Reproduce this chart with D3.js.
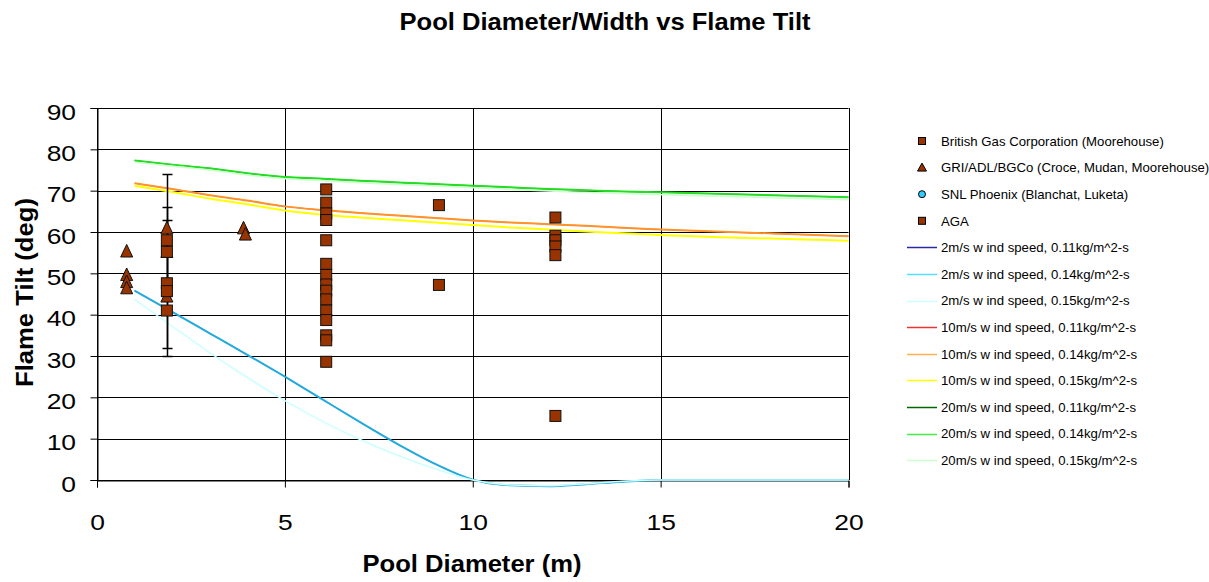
<!DOCTYPE html>
<html><head><meta charset="utf-8">
<script src="https://cdn.jsdelivr.net/npm/d3@7"></script>
<style>body{margin:0;background:#fff}svg{display:block;font-family:Arial,"Liberation Sans",sans-serif}</style>
</head><body><svg id="c" width="1209" height="582"></svg>
<script>
// ---- data ----
const xTicks = [0, 5, 10, 15, 20];
const yTicks = [0, 10, 20, 30, 40, 50, 60, 70, 80, 90];

const bgcX = [1.86, 1.86, 1.86, 1.86, 1.86];
const bgcY = [58, 55.2, 47.6, 45.7, 41];

const griX = [0.79, 0.79, 0.79, 0.79, 1.86, 1.86, 1.86, 3.9, 3.95];
const griY = [55.4, 49.7, 48, 46.5, 61, 55.3, 44.5, 61, 59.5];

const snlX = [];
const snlY = [];

const agaX = [6.1,6.1,6.1,6.1,6.1,6.1,6.1,6.1,6.1,6.1,6.1,6.1,6.1,6.1,6.1, 9.1,9.1, 12.2,12.2,12.2,12.2,12.2,12.2];
const agaY = [70.3,67.1,64.5,62.9,58,52.3,49.6,47.3,45.8,43.7,41,38.7,35,33.8,28.6, 66.5,47.2, 63.5,59.1,58,56.5,54.4,15.5];

// error bars on BGC points (x, low, high)
const errX = [1.86, 1.86, 1.86];
const errLow = [30, 32, 45];
const errHigh = [74, 66, 63];

// model curves
const curveX = [1,2,3,4,5,6,7,8,9,10,11,12,13,14,15,20];
const v2_011 = [45.8,40.7,35.5,30.3,25.0,19.5,14.0,8.7,3.9,0.1,-1.3,-1.5,-1.0,-0.4,0,0];
const v2_014 = [45.8,40.7,35.5,30.3,25.0,19.5,14.0,8.7,3.9,0.1,-1.3,-1.5,-1.0,-0.4,0,0];
const v2_015 = [43.7,37.2,30.8,24.8,19.2,14.2,9.8,6.0,2.7,0,-1.2,-1.4,-0.9,-0.3,0,0];
const v10_011 = [71.8,70.4,68.9,67.6,66.2,65.3,64.6,64.0,63.4,62.8,62.3,61.9,61.5,61.0,60.6,59.0];
const v10_014 = [71.8,70.4,68.9,67.6,66.2,65.3,64.6,64.0,63.4,62.8,62.3,61.9,61.5,61.0,60.6,59.0];
const v10_015 = [71.2,69.7,68.1,66.7,65.2,64.2,63.5,62.9,62.3,61.7,61.1,60.6,60.1,59.7,59.3,57.9];
const v20_011 = [77.3,76.3,75.4,74.2,73.3,72.9,72.4,72.0,71.6,71.2,70.8,70.4,70.1,69.8,69.6,68.4];
const v20_014 = [77.3,76.3,75.4,74.2,73.3,72.9,72.4,72.0,71.6,71.2,70.8,70.4,70.1,69.8,69.6,68.4];
const v20_015 = [76.9,75.9,75.0,73.8,72.9,72.4,71.9,71.5,71.1,70.7,70.3,69.9,69.6,69.3,69.0,67.8];

const lineNames = [
  "2m/s w ind speed, 0.11kg/m^2-s","2m/s w ind speed, 0.14kg/m^2-s","2m/s w ind speed, 0.15kg/m^2-s",
  "10m/s w ind speed, 0.11kg/m^2-s","10m/s w ind speed, 0.14kg/m^2-s","10m/s w ind speed, 0.15kg/m^2-s",
  "20m/s w ind speed, 0.11kg/m^2-s","20m/s w ind speed, 0.14kg/m^2-s","20m/s w ind speed, 0.15kg/m^2-s"];
const lineValues = [v2_011, v2_014, v2_015, v10_011, v10_014, v10_015, v20_011, v20_014, v20_015];
const lineColors = ["#1a1a8c","#22aadd","#ccffff","#ee2222","#ff9229","#ffff00","#006600","#22dd22","#ccffcc"];
const legendLineColors = ["#2a2aa0","#55ddff","#ccffff","#ee3333","#ffb050","#ffff00","#006600","#44ee44","#ccffcc"];
const lineWidths = [0.8,2,1.5,0.8,2,2,0.8,2,1.5];

// ---- chart ----
const svg = d3.select("#c");
const L = 97, R = 848.5, T = 108, B = 480;
const x = d3.scaleLinear().domain([0, 20]).range([L, R]);
const y = d3.scaleLinear().domain([0, 90]).range([B, T]);

svg.append("text").attr("x", 605).attr("y", 30).attr("text-anchor", "middle")
  .attr("font-size", 23).attr("font-weight", "bold")
  .attr("textLength", 411).attr("lengthAdjust", "spacingAndGlyphs")
  .text("Pool Diameter/Width vs Flame Tilt");

// grid
const g = svg.append("g");
g.selectAll(".hg").data(yTicks).join("line")
  .attr("x1", L).attr("x2", R).attr("y1", d => Math.round(y(d)) + 0.5).attr("y2", d => Math.round(y(d)) + 0.5)
  .attr("stroke", "#000").attr("stroke-width", 1);
g.selectAll(".vg").data(xTicks).join("line")
  .attr("y1", T).attr("y2", B).attr("x1", d => Math.round(x(d)) + 0.5).attr("x2", d => Math.round(x(d)) + 0.5)
  .attr("stroke", "#000").attr("stroke-width", 1);

// axes
const FS = 22, SX = 1.2;
const yAxis = d3.axisLeft(y).tickValues(yTicks).tickSize(7).tickPadding(10.9).tickFormat(d3.format("d"));
const ya = svg.append("g").attr("transform", `translate(${Math.round(L)+0.5},0)`).call(yAxis);
const xAxis = d3.axisBottom(x).tickValues(xTicks).tickSize(7).tickPadding(26.9).tickFormat(d3.format("d"));
const xa = svg.append("g").attr("transform", `translate(0,${Math.round(B)+0.5})`).call(xAxis);
[ya, xa].forEach(a => {
  a.select(".domain").attr("stroke", "#000");
  a.selectAll(".tick line").attr("stroke", "#000");
  a.selectAll("text").attr("font-size", FS).attr("font-family", "Arial, 'Liberation Sans', sans-serif")
    .attr("fill", "#000").attr("transform", `scale(${SX},1)`);
});
ya.selectAll("text").attr("dy", "0.5em");

svg.append("text").attr("x", 472).attr("y", 572).attr("text-anchor", "middle")
  .attr("font-size", 23).attr("font-weight", "bold")
  .attr("textLength", 219).attr("lengthAdjust", "spacingAndGlyphs").text("Pool Diameter (m)");
svg.append("text").attr("transform", "translate(33,292.5) rotate(-90)").attr("text-anchor", "middle")
  .attr("font-size", 23).attr("font-weight", "bold")
  .attr("textLength", 189).attr("lengthAdjust", "spacingAndGlyphs").text("Flame Tilt (deg)");

// lines
const lineGen = d3.line().x(d => x(d[0])).y(d => y(d[1])).curve(d3.curveMonotoneX);
lineValues.forEach((vals, i) => {
  svg.append("path").datum(curveX.map((cx, j) => [cx, vals[j]]))
    .attr("d", lineGen).attr("fill", "none").attr("stroke", lineColors[i]).attr("stroke-width", lineWidths[i]);
});

// error bars
errX.forEach((ex, i) => {
  const px = Math.round(x(ex)) + 0.5;
  svg.append("line").attr("x1", px).attr("x2", px).attr("y1", y(errLow[i])).attr("y2", y(errHigh[i]))
    .attr("stroke", "#000").attr("stroke-width", 1.5);
  [errLow[i], errHigh[i]].forEach(v => {
    svg.append("line").attr("x1", px - 5).attr("x2", px + 5).attr("y1", Math.round(y(v)) + 0.5).attr("y2", Math.round(y(v)) + 0.5)
      .attr("stroke", "#000").attr("stroke-width", 1.5);
  });
});

const brown = "#993300";
function squares(xs, ys, s) {
  svg.append("g").selectAll("rect").data(xs.map((v, i) => [v, ys[i]])).join("rect")
    .attr("x", d => x(d[0]) - s / 2).attr("y", d => y(d[1]) - s / 2).attr("width", s).attr("height", s)
    .attr("fill", brown).attr("stroke", "#111").attr("stroke-width", 1);
}
function triangles(xs, ys, s) {
  svg.append("g").selectAll("path").data(xs.map((v, i) => [v, ys[i]])).join("path")
    .attr("d", d => { const cx = x(d[0]), cy = y(d[1]); return `M${cx},${cy - s*0.55}L${cx + s/2},${cy + s*0.5}L${cx - s/2},${cy + s*0.5}Z`; })
    .attr("fill", brown).attr("stroke", "#111").attr("stroke-width", 1);
}
triangles(griX, griY, 12);
squares(bgcX, bgcY, 11);
squares(agaX, agaY, 11);
svg.append("g").selectAll("circle").data(snlX.map((v, i) => [v, snlY[i]])).join("circle")
  .attr("cx", d => x(d[0])).attr("cy", d => y(d[1])).attr("r", 4).attr("fill", "#33ccff").attr("stroke", "#000");

// legend
const lg = svg.append("g");
const ly0 = 141, lstep = 26.6, LFS = 13.2;
const markerNames = ["British Gas Corporation (Moorehouse)", "GRI/ADL/BGCo (Croce, Mudan, Moorehouse)", "SNL Phoenix (Blanchat, Luketa)", "AGA"];
const markerTypes = ["square", "triangle", "circle", "square"];
markerNames.forEach((n, i) => {
  const cy = ly0 + i * lstep, cx = 922;
  if (markerTypes[i] === "square") lg.append("rect").attr("x", cx - 3.5).attr("y", cy - 3.5).attr("width", 7).attr("height", 7).attr("fill", brown).attr("stroke", "#000");
  else if (markerTypes[i] === "triangle") lg.append("path").attr("d", `M${cx},${cy-4.5}L${cx+4.5},${cy+3.5}L${cx-4.5},${cy+3.5}Z`).attr("fill", brown).attr("stroke", "#000");
  else lg.append("circle").attr("cx", cx).attr("cy", cy).attr("r", 3.5).attr("fill", "#33ccff").attr("stroke", "#000");
  lg.append("text").attr("x", 941).attr("y", cy).attr("dy", "0.36em").attr("font-size", LFS).text(n);
});
lineNames.forEach((n, i) => {
  const cy = ly0 + (i + 4) * lstep;
  lg.append("line").attr("x1", 907).attr("x2", 937).attr("y1", Math.round(cy) + 0.5).attr("y2", Math.round(cy) + 0.5)
    .attr("stroke", legendLineColors[i]).attr("stroke-width", 1.5);
  lg.append("text").attr("x", 941).attr("y", cy).attr("dy", "0.36em").attr("font-size", LFS).text(n);
});
</script></body></html>
